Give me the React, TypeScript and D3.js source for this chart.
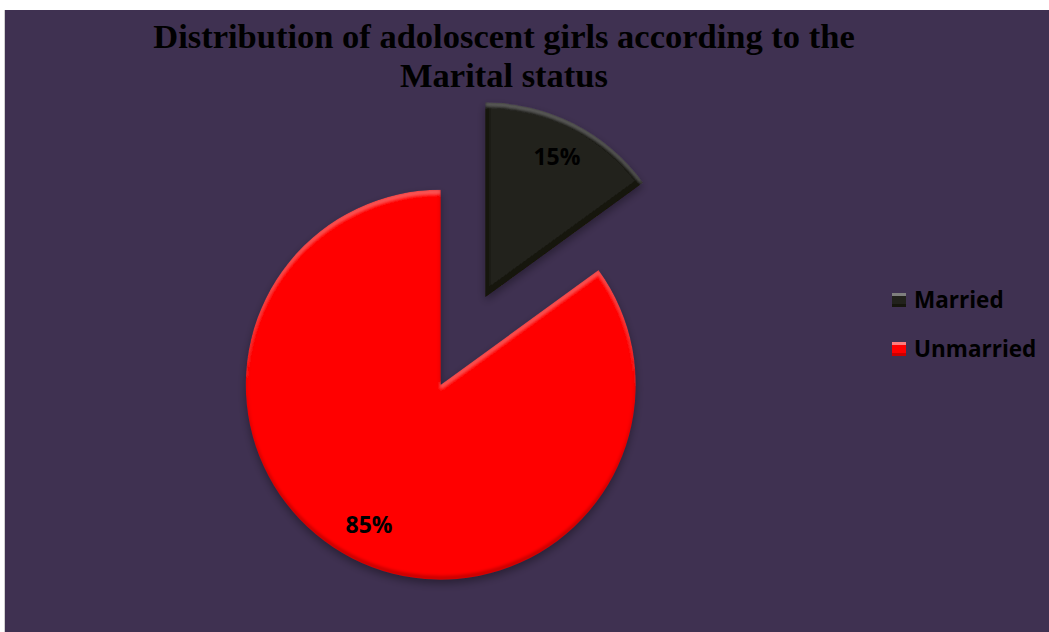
import React from "react";
import * as d3 from "d3";

const categories = ["Married", "Unmarried"];
const values = [15, 85];
const labels = ["15%", "85%"];
const sliceColors = ["#24221a", "#ff0000"];
const titleLines = ["Distribution of adoloscent girls according to the", "Marital status"];

const W = 1049;
const H = 632;

export default function App() {
  const cx = 463;
  const cy = 341;
  const r = 195;
  const explode = 49;

  const pie = d3
    .pie<number>()
    .sort(null)
    .value((d) => d)
    .startAngle(0)
    .endAngle(2 * Math.PI);
  const arcs = pie(values);
  const arcGen = d3.arc<d3.PieArcDatum<number>>().innerRadius(0).outerRadius(r);

  const legendX = 892;
  const legendY = 293;
  const legendStep = 49;

  return (
    <svg
      width={W}
      height={H}
      style={{ position: "absolute", left: 0, top: 0, display: "block" }}
      xmlns="http://www.w3.org/2000/svg"
    >
      <defs>
        <filter id="bevel" x="-20%" y="-20%" width="140%" height="140%">
          <feGaussianBlur in="SourceAlpha" stdDeviation="4" result="dsb" />
          <feOffset in="dsb" dx="0" dy="4" result="dso" />
          <feFlood floodColor="#000" floodOpacity="0.35" result="dsc" />
          <feComposite in="dsc" in2="dso" operator="in" result="drop" />
          <feOffset in="SourceAlpha" dx="0" dy="-4" result="up" />
          <feComposite in="SourceAlpha" in2="up" operator="out" result="bEdge" />
          <feGaussianBlur in="bEdge" stdDeviation="1.8" result="bEdgeB" />
          <feFlood floodColor="#000" floodOpacity="0.4" result="bc" />
          <feComposite in="bc" in2="bEdgeB" operator="in" result="bShade" />
          <feOffset in="SourceAlpha" dx="0" dy="4" result="down" />
          <feComposite in="SourceAlpha" in2="down" operator="out" result="tEdge" />
          <feGaussianBlur in="tEdge" stdDeviation="1.8" result="tEdgeB" />
          <feFlood floodColor="#ffffff" floodOpacity="0.1" result="tc" />
          <feComposite in="tc" in2="tEdgeB" operator="in" result="tHi" />
          <feGaussianBlur in="SourceAlpha" stdDeviation="2.5" result="rimB" />
          <feComposite in="SourceAlpha" in2="rimB" operator="arithmetic" k2="1" k3="-1" result="rim" />
          <feFlood floodColor="#000" floodOpacity="0.3" result="rc" />
          <feComposite in="rc" in2="rim" operator="in" result="rimShade" />
          <feMerge result="inner">
            <feMergeNode in="SourceGraphic" />
            <feMergeNode in="rimShade" />
            <feMergeNode in="tHi" />
            <feMergeNode in="bShade" />
          </feMerge>
          <feComposite in="inner" in2="SourceAlpha" operator="in" result="innerClip" />
          <feMerge>
            <feMergeNode in="drop" />
            <feMergeNode in="innerClip" />
          </feMerge>
        </filter>
        <filter id="bevelSmall" x="-30%" y="-30%" width="160%" height="160%">
          <feOffset in="SourceAlpha" dx="0" dy="-3" result="up" />
          <feComposite in="SourceAlpha" in2="up" operator="out" result="bEdge" />
          <feFlood floodColor="#000" floodOpacity="0.4" result="bc" />
          <feComposite in="bc" in2="bEdge" operator="in" result="bShade" />
          <feOffset in="SourceAlpha" dx="0" dy="3" result="down" />
          <feComposite in="SourceAlpha" in2="down" operator="out" result="tEdge" />
          <feFlood floodColor="#fff" floodOpacity="0.2" result="tc" />
          <feComposite in="tc" in2="tEdge" operator="in" result="tHi" />
          <feMerge>
            <feMergeNode in="SourceGraphic" />
            <feMergeNode in="tHi" />
            <feMergeNode in="bShade" />
          </feMerge>
        </filter>
      </defs>

      <rect x={0} y={0} width={W} height={H} fill="#ffffff" />
      <rect x={4} y={10} width={1} height={H - 10} fill="#d0d0d0" />
      <rect x={5} y={10} width={W - 5} height={H - 10} fill="#3f3151" />

      {titleLines.map((t, i) => (
        <text
          key={i}
          x={504}
          y={48 + i * 39}
          textAnchor="middle"
          fontFamily="'Liberation Serif', 'Times New Roman', serif"
          fontWeight="bold"
          fontSize={34.5}
          fill="#000"
        >
          {t}
        </text>
      ))}

      {arcs.map((a, i) => {
        const mid = (a.startAngle + a.endAngle) / 2;
        const ox = cx + explode * Math.sin(mid);
        const oy = cy - explode * Math.cos(mid);
        return (
          <g key={categories[i]} transform={`translate(${ox},${oy})`}>
            <path d={arcGen(a) || ""} fill={sliceColors[i]} filter="url(#bevel)" />
          </g>
        );
      })}

      {arcs.map((a, i) => {
        const mid = (a.startAngle + a.endAngle) / 2;
        const ox = cx + explode * Math.sin(mid);
        const oy = cy - explode * Math.cos(mid);
        const lr = r * 0.81;
        const lx = ox + lr * Math.sin(mid);
        const ly = oy - lr * Math.cos(mid);
        return (
          <text
            key={"l" + i}
            x={lx}
            y={ly + 8}
            textAnchor="middle"
            fontFamily="'Open Sans', 'Noto Sans', sans-serif"
            fontWeight="bold"
            fontSize={23}
            fill="#000"
          >
            {labels[i]}
          </text>
        );
      })}

      {categories.map((c, i) => (
        <g key={"lg" + i}>
          <rect
            x={legendX}
            y={legendY + i * legendStep}
            width={14}
            height={14}
            fill={sliceColors[i]}
            filter="url(#bevelSmall)"
          />
          <text
            x={legendX + 22}
            y={legendY + 15 + i * legendStep}
            fontFamily="'Open Sans', 'Noto Sans', sans-serif"
            fontWeight="bold"
            fontSize={22.5}
            fill="#000"
          >
            {c}
          </text>
        </g>
      ))}
    </svg>
  );
}
